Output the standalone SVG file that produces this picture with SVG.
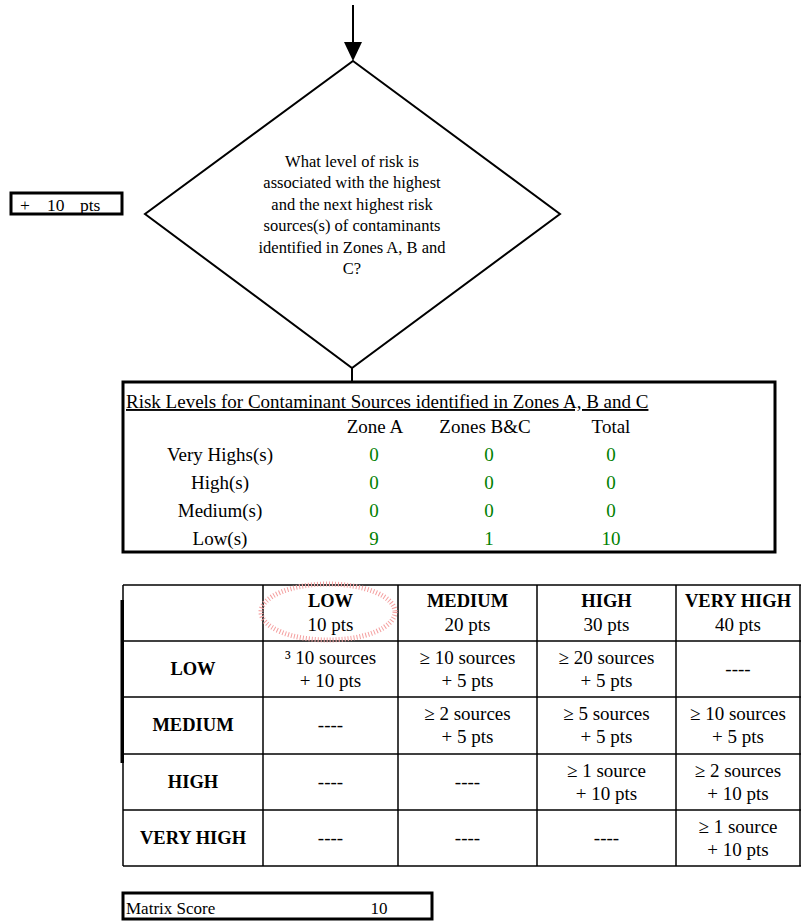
<svg xmlns="http://www.w3.org/2000/svg" width="801" height="922" viewBox="0 0 801 922">
<style>
text{font-family:"Liberation Serif","Times New Roman",serif;fill:#000}
.t19{font-size:19px}
.b{font-weight:bold;font-size:18.5px}
.c{text-anchor:middle}
.g{fill:#008000}
.frame{fill:none;stroke:#000;stroke-width:3}
.grid{stroke:#000;stroke-width:1.5;fill:none}
.d{font-size:16.5px;text-anchor:middle}
</style>
<defs>
<marker id="ah" markerWidth="18" markerHeight="19" refX="9" refY="19" orient="auto" markerUnits="userSpaceOnUse" viewBox="0 0 18 19">
<path d="M0,0 L18,0 L9,19 Z" fill="#000"/>
</marker>
</defs>
<rect width="801" height="922" fill="#fff"/>
<g id="connectors">
<line x1="353" y1="5" x2="353" y2="42" stroke="#000" stroke-width="2"/>
<path d="M344,42 L362,42 L353,61 Z" fill="#000"/>
<line x1="352" y1="368" x2="352" y2="382" stroke="#000" stroke-width="2"/>
</g>
<g id="decision">
<polygon points="353,61 560,214 352,368 145,214" fill="#fff" stroke="#000" stroke-width="2"/>
<text class="d" x="352" y="166.5">What level of risk is</text>
<text class="d" x="352" y="188">associated with the highest</text>
<text class="d" x="352" y="209.5">and the next highest risk</text>
<text class="d" x="352" y="231">sources(s) of contaminants</text>
<text class="d" x="352" y="252.5">identified in Zones A, B and</text>
<text class="d" x="352" y="274">C?</text>
</g>
<g id="points-box">
<rect class="frame" x="11" y="193" width="111" height="21"/>
<text x="20" y="210.5" style="font-size:17.5px">+</text>
<text x="47" y="210.5" style="font-size:17.5px">10</text>
<text x="80" y="210.5" style="font-size:17.5px">pts</text>
</g>
<g id="risk-levels">
<rect class="frame" x="123" y="382" width="652" height="170"/>
<text class="t19" x="126" y="408" text-decoration="underline">Risk Levels for Contaminant Sources identified in Zones A, B and C</text>
<text class="t19 c" x="375" y="433">Zone A</text>
<text class="t19 c" x="485" y="433">Zones B&amp;C</text>
<text class="t19 c" x="611" y="433">Total</text>
<text class="t19 c" x="220" y="461">Very Highs(s)</text>
<text class="t19 c" x="220" y="489">High(s)</text>
<text class="t19 c" x="220" y="517">Medium(s)</text>
<text class="t19 c" x="220" y="545">Low(s)</text>
<g class="g">
<text class="t19 c g" x="374" y="461">0</text>
<text class="t19 c g" x="489" y="461">0</text>
<text class="t19 c g" x="611" y="461">0</text>
<text class="t19 c g" x="374" y="489">0</text>
<text class="t19 c g" x="489" y="489">0</text>
<text class="t19 c g" x="611" y="489">0</text>
<text class="t19 c g" x="374" y="517">0</text>
<text class="t19 c g" x="489" y="517">0</text>
<text class="t19 c g" x="611" y="517">0</text>
<text class="t19 c g" x="374" y="545">9</text>
<text class="t19 c g" x="489" y="545">1</text>
<text class="t19 c g" x="611" y="545">10</text>
</g>
</g>
<g id="matrix">
<g class="grid">
<line x1="123" y1="585" x2="801" y2="585"/>
<line x1="123" y1="641" x2="801" y2="641"/>
<line x1="123" y1="697" x2="801" y2="697"/>
<line x1="123" y1="754" x2="801" y2="754"/>
<line x1="123" y1="810" x2="801" y2="810"/>
<line x1="123" y1="866" x2="801" y2="866"/>
<line x1="123" y1="585" x2="123" y2="866"/>
<line x1="263" y1="585" x2="263" y2="866"/>
<line x1="398" y1="585" x2="398" y2="866"/>
<line x1="537" y1="585" x2="537" y2="866"/>
<line x1="676" y1="585" x2="676" y2="866"/>
<line x1="800" y1="585" x2="800" y2="866"/>
</g>
<rect x="120.5" y="600" width="3.5" height="163" fill="#000"/>
<ellipse cx="328" cy="612" rx="67" ry="28" fill="none" stroke="#f4a0a0" stroke-width="5" stroke-dasharray="1 2"/>
<text class="b c" x="330.5" y="607">LOW</text>
<text class="t19 c" x="330.5" y="631">10 pts</text>
<text class="b c" x="467.5" y="607">MEDIUM</text>
<text class="t19 c" x="467.5" y="631">20 pts</text>
<text class="b c" x="606.5" y="607">HIGH</text>
<text class="t19 c" x="606.5" y="631">30 pts</text>
<text class="b c" x="738" y="607">VERY HIGH</text>
<text class="t19 c" x="738" y="631">40 pts</text>

<text class="b c" x="193" y="675">LOW</text>
<text class="t19 c" x="330.5" y="664">³ 10 sources</text>
<text class="t19 c" x="330.5" y="687">+ 10 pts</text>
<text class="t19 c" x="467.5" y="664">≥ 10 sources</text>
<text class="t19 c" x="467.5" y="687">+ 5 pts</text>
<text class="t19 c" x="606.5" y="664">≥ 20 sources</text>
<text class="t19 c" x="606.5" y="687">+ 5 pts</text>
<text class="t19 c" x="738" y="675">----</text>

<text class="b c" x="193" y="731">MEDIUM</text>
<text class="t19 c" x="330.5" y="731">----</text>
<text class="t19 c" x="467.5" y="720">≥ 2 sources</text>
<text class="t19 c" x="467.5" y="743">+ 5 pts</text>
<text class="t19 c" x="606.5" y="720">≥ 5 sources</text>
<text class="t19 c" x="606.5" y="743">+ 5 pts</text>
<text class="t19 c" x="738" y="720">≥ 10 sources</text>
<text class="t19 c" x="738" y="743">+ 5 pts</text>

<text class="b c" x="193" y="788">HIGH</text>
<text class="t19 c" x="330.5" y="788">----</text>
<text class="t19 c" x="467.5" y="788">----</text>
<text class="t19 c" x="606.5" y="777">≥ 1 source</text>
<text class="t19 c" x="606.5" y="800">+ 10 pts</text>
<text class="t19 c" x="738" y="777">≥ 2 sources</text>
<text class="t19 c" x="738" y="800">+ 10 pts</text>

<text class="b c" x="193" y="844">VERY HIGH</text>
<text class="t19 c" x="330.5" y="844">----</text>
<text class="t19 c" x="467.5" y="844">----</text>
<text class="t19 c" x="606.5" y="844">----</text>
<text class="t19 c" x="738" y="833">≥ 1 source</text>
<text class="t19 c" x="738" y="856">+ 10 pts</text>
</g>
<g id="matrix-score">
<rect class="frame" x="123" y="893" width="309" height="26"/>
<text x="126" y="914" style="font-size:17px">Matrix Score</text>
<text x="379" y="914" style="font-size:17px;text-anchor:middle">10</text>
</g>
</svg>
